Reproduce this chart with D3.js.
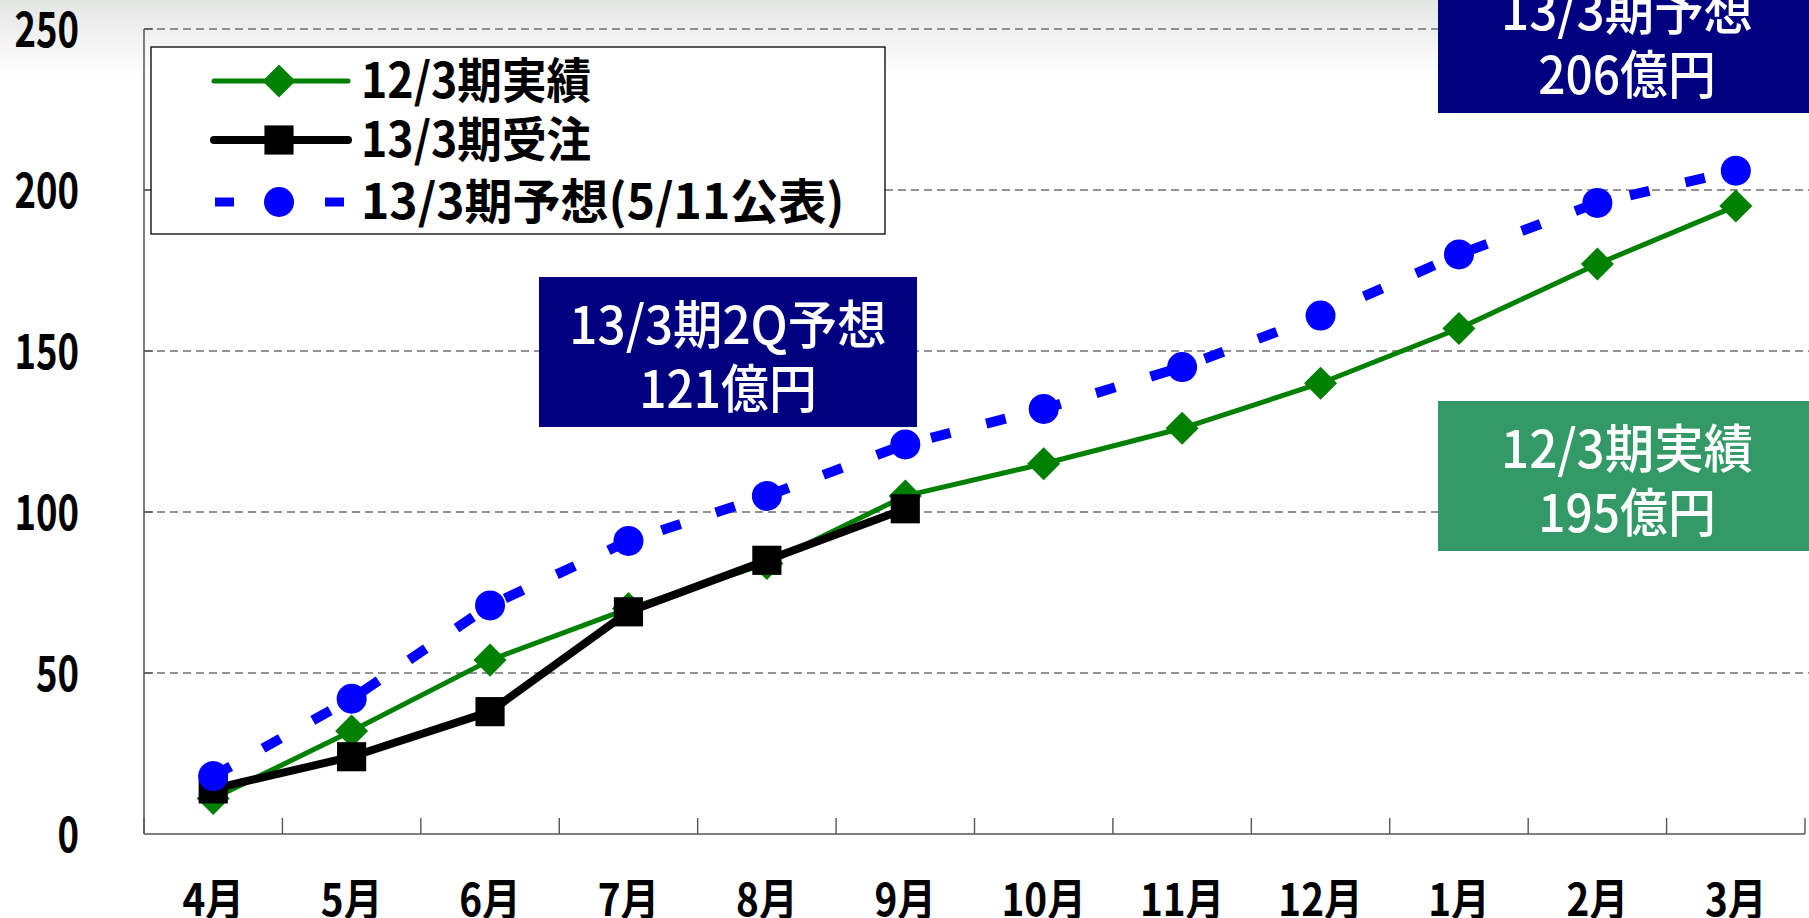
<!DOCTYPE html>
<html>
<head>
<meta charset="utf-8">
<title>受注推移</title>
<style>
  body { margin: 0; background: #fff; }
  svg { display: block; }
</style>
</head>
<body>
<div id="container"></div>
<script src="https://d3js.org/d3.v7.min.js"></script>
<script>

// data (億円)
const months = ["4月", "5月", "6月", "7月", "8月", "9月", "10月", "11月", "12月", "1月", "2月", "3月"];
const actual12 = [11, 32, 54, 70, 84, 105, 115, 126, 140, 157, 177, 195];
const orders13 = [14, 24, 38, 69, 85, 101];
const forecast13 = [18, 42, 71, 91, 105, 121, 132, 145, 161, 180, 196, 206];
const yTicks = [0, 50, 100, 150, 200, 250];
const seriesNames = ["12/3期実績", "13/3期受注", "13/3期予想(5/11公表)"];
const callouts = [
  ["13/3期2Q予想", "121億円"],
  ["12/3期実績", "195億円"],
  ["13/3期予想", "206億円"]
];

const width = 1809;
const height = 918;
const marginLeft = 144;
const plotRight = 1805;
const marginTop = 29;
const baseY = 834;
const font = "'Noto Sans CJK JP', 'Noto Sans', sans-serif";

const navy = "#000080";
const green = "#008000";
const boxGreen = "#339966";
const blue = "#0000ff";

// squash text horizontally, the original uses a condensed face
const squeeze = (sel, k) => sel.each(function() {
  const w = this.getComputedTextLength();
  d3.select(this).attr("textLength", w * k).attr("lengthAdjust", "spacingAndGlyphs");
});

const x = d3.scaleBand().domain(months).range([marginLeft, plotRight]).padding(0);
const y = d3.scaleLinear().domain([0, 250]).range([baseY, marginTop]);
const cx = m => x(m) + x.bandwidth() / 2;

const svg = d3.select("#container").append("svg")
    .attr("width", width)
    .attr("height", height);

const defs = svg.append("defs");
const grad = defs.append("linearGradient").attr("id", "topfade")
    .attr("x1", 0).attr("y1", 0).attr("x2", 0).attr("y2", 1);
grad.append("stop").attr("offset", 0).attr("stop-color", "#e3e5e3");
grad.append("stop").attr("offset", 1).attr("stop-color", "#ffffff");

svg.append("rect").attr("width", width).attr("height", height).attr("fill", "#fff");
svg.append("rect").attr("width", width).attr("height", 75).attr("fill", "url(#topfade)");

// gridlines
svg.append("g").selectAll("line")
  .data(yTicks.filter(d => d > 0))
  .join("line")
    .attr("x1", marginLeft).attr("x2", width)
    .attr("y1", d => y(d)).attr("y2", d => y(d))
    .attr("stroke", "#707070")
    .attr("stroke-width", 1.4)
    .attr("stroke-dasharray", "8 5");

// inward y ticks
svg.append("g").selectAll("line")
  .data(yTicks)
  .join("line")
    .attr("x1", marginLeft).attr("x2", marginLeft + 9)
    .attr("y1", d => y(d)).attr("y2", d => y(d))
    .attr("stroke", "#555").attr("stroke-width", 1.4);

// y axis (labels only, line drawn below)
const yAxis = svg.append("g")
    .attr("transform", `translate(${marginLeft},0)`)
    .call(d3.axisLeft(y).tickValues(yTicks).tickSize(0).tickPadding(65));
yAxis.select(".domain").remove();
yAxis.selectAll("text")
    .attr("dy", "0.36em")
    .style("font-family", font)
    .style("font-size", "48px")
    .style("font-weight", "bold")
    .attr("fill", "#000")
    .call(squeeze, 0.76);

svg.append("line")
    .attr("x1", marginLeft).attr("x2", marginLeft)
    .attr("y1", y(250)).attr("y2", baseY)
    .attr("stroke", "#555").attr("stroke-width", 1.5);

// x axis
const xAxis = svg.append("g")
    .attr("transform", `translate(0,${baseY})`)
    .call(d3.axisBottom(x).tickSize(0).tickPadding(0));
xAxis.select(".domain").remove();
xAxis.selectAll("text")
    .attr("y", 82)
    .attr("dy", 0)
    .style("font-family", font)
    .style("font-size", "44px")
    .style("font-weight", "bold")
    .attr("fill", "#000")
    .call(squeeze, 0.88);

svg.append("line")
    .attr("x1", marginLeft).attr("x2", plotRight)
    .attr("y1", baseY).attr("y2", baseY)
    .attr("stroke", "#808080").attr("stroke-width", 2);

const bounds = months.map(m => x(m)).concat(x.range()[1]);
svg.append("g").selectAll("line")
  .data(bounds)
  .join("line")
    .attr("x1", d => d).attr("x2", d => d)
    .attr("y1", baseY - 16).attr("y2", baseY)
    .attr("stroke", "#555").attr("stroke-width", 1.4);

// series
const line = d3.line()
    .x((d, i) => cx(months[i]))
    .y(d => y(d));

const diamond = d3.symbol(d3.symbolSquare, 545);
const square = d3.symbol(d3.symbolSquare, 850);

const gGreen = svg.append("g");
gGreen.append("path")
    .attr("d", line(actual12))
    .attr("fill", "none").attr("stroke", green)
    .attr("stroke-width", 5).attr("stroke-linejoin", "round");
gGreen.selectAll("path.m")
  .data(actual12)
  .join("path").attr("class", "m")
    .attr("d", diamond)
    .attr("transform", (d, i) => `translate(${cx(months[i])},${y(d)}) rotate(45)`)
    .attr("fill", green);

const gBlack = svg.append("g");
gBlack.append("path")
    .attr("d", line(orders13))
    .attr("fill", "none").attr("stroke", "#000")
    .attr("stroke-width", 8).attr("stroke-linejoin", "round");
gBlack.selectAll("path.m")
  .data(orders13)
  .join("path").attr("class", "m")
    .attr("d", square)
    .attr("transform", (d, i) => `translate(${cx(months[i])},${y(d)})`)
    .attr("fill", "#000");

const gBlue = svg.append("g");
gBlue.append("path")
    .attr("d", line(forecast13))
    .attr("fill", "none").attr("stroke", blue)
    .attr("stroke-width", 10).attr("stroke-dasharray", "20 37");
gBlue.selectAll("circle")
  .data(forecast13)
  .join("circle")
    .attr("cx", (d, i) => cx(months[i]))
    .attr("cy", d => y(d))
    .attr("r", 15)
    .attr("fill", blue);

// legend
const legend = svg.append("g");
legend.append("rect")
    .attr("x", 151).attr("y", 47).attr("width", 734).attr("height", 187)
    .attr("fill", "#fff").attr("stroke", "#000").attr("stroke-width", 1.3);

const rowY = [81, 140, 202];
const legendItems = legend.selectAll("g.item")
  .data(seriesNames)
  .join("g").attr("class", "item")
    .attr("transform", (d, i) => `translate(0,${rowY[i]})`);

legendItems.filter((d, i) => i === 0).call(g => {
  g.append("line").attr("x1", 214).attr("x2", 348)
    .attr("stroke", green).attr("stroke-width", 5).attr("stroke-linecap", "round");
  g.append("path").attr("d", diamond).attr("transform", "translate(279,0) rotate(45)").attr("fill", green);
});
legendItems.filter((d, i) => i === 1).call(g => {
  g.append("line").attr("x1", 214).attr("x2", 348)
    .attr("stroke", "#000").attr("stroke-width", 8).attr("stroke-linecap", "round");
  g.append("path").attr("d", square).attr("transform", "translate(279,0)").attr("fill", "#000");
});
legendItems.filter((d, i) => i === 2).call(g => {
  g.append("line").attr("x1", 215).attr("x2", 344)
    .attr("stroke", blue).attr("stroke-width", 9).attr("stroke-dasharray", "19 91");
  g.append("circle").attr("cx", 279).attr("r", 15).attr("fill", blue);
});

legendItems.append("text")
    .attr("x", 361)
    .attr("dy", "0.36em")
    .text(d => d)
    .style("font-family", font)
    .style("font-size", "48px")
    .style("font-weight", "bold")
    .attr("fill", "#000")
    .each(function(d, i) {
      // the parenthesised label runs a little wider in the original
      squeeze(d3.select(this), i === 2 ? 1.0 : 0.93);
    });

// callout boxes
const boxes = [
  { x: 539, y: 277, fill: navy },
  { x: 1438, y: 401, fill: boxGreen },
  { x: 1438, y: -37, fill: navy }
];
const boxW = 378, boxH = 150;

const callG = svg.append("g").selectAll("g")
  .data(callouts)
  .join("g")
    .attr("transform", (d, i) => `translate(${boxes[i].x},${boxes[i].y})`);

callG.append("rect")
    .attr("width", boxW).attr("height", boxH)
    .attr("fill", (d, i) => boxes[i].fill);

callG.selectAll("text")
  .data(d => d)
  .join("text")
    .attr("x", boxW / 2)
    .attr("y", (d, i) => 48 + i * 64)
    .attr("dy", "0.36em")
    .attr("text-anchor", "middle")
    .text(d => d)
    .style("font-family", font)
    .style("font-size", "52px")
    .style("font-weight", "500")
    .attr("fill", "#fff")
    .each(function(d, i) {
      squeeze(d3.select(this), i === 0 ? 0.95 : 0.92);
    });

</script>
</body>
</html>
